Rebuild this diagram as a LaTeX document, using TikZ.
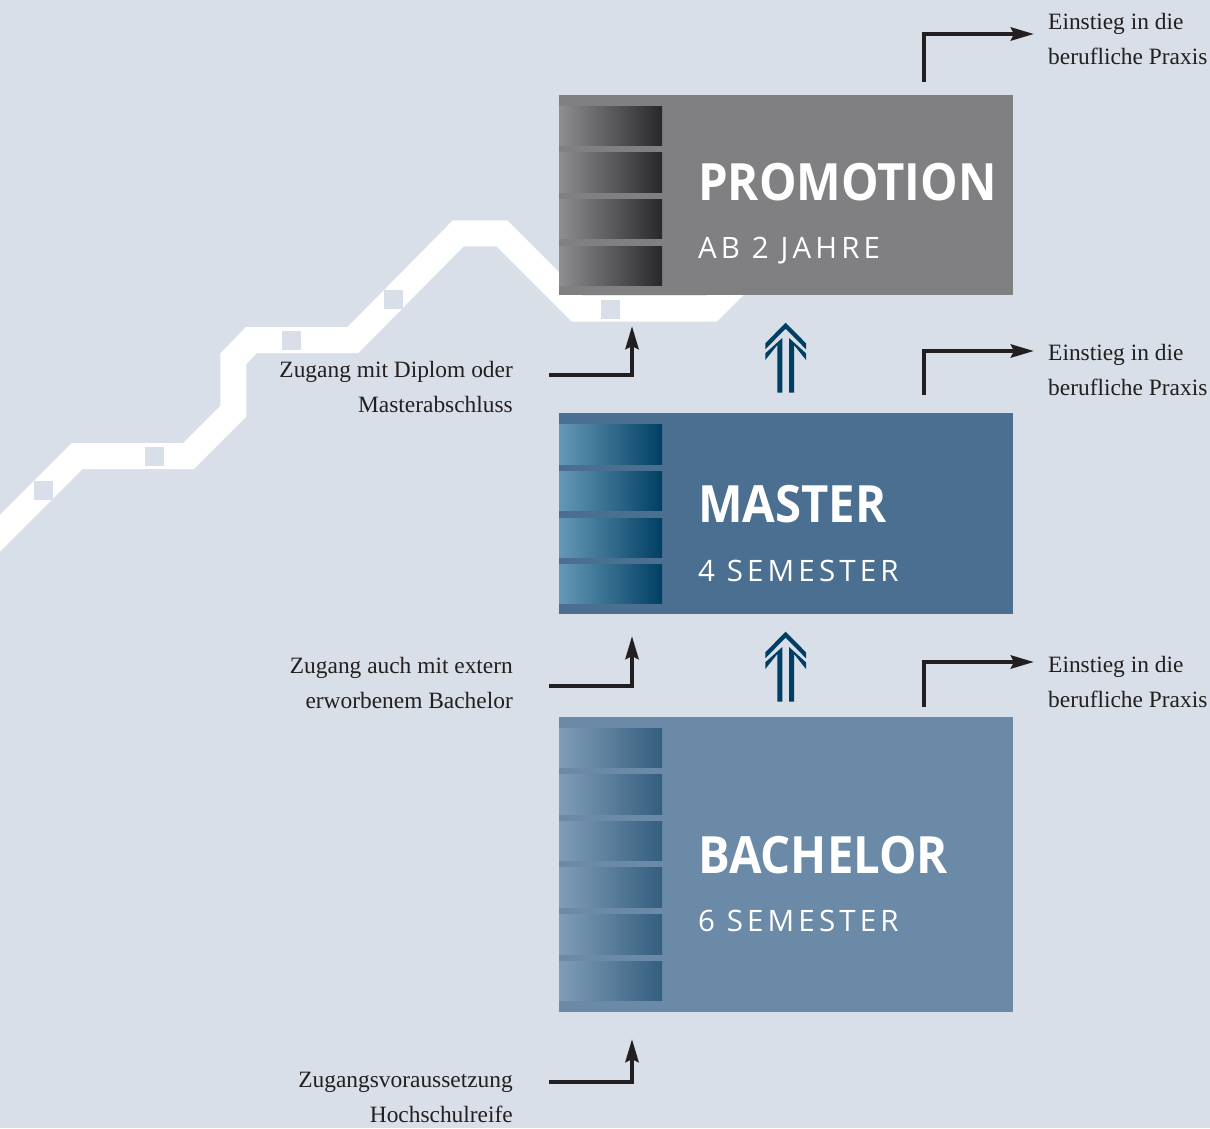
\documentclass[tikz,border=0pt]{standalone}
\usepackage{fontspec}
\setmainfont{Liberation Serif}
\newfontfamily\headfont[FakeStretch=0.92]{Open Sans}
\newfontfamily\subfont[LetterSpace=14]{Open Sans}
\usetikzlibrary{arrows.meta}

\definecolor{bg}{RGB}{216,223,232}
\definecolor{ink}{RGB}{35,31,32}
\definecolor{navy}{RGB}{0,63,99}
\definecolor{promo}{RGB}{128,128,130}
\definecolor{promoL}{RGB}{142,142,144}
\definecolor{promoR}{RGB}{40,39,41}
\definecolor{master}{RGB}{74,111,145}
\definecolor{masterL}{RGB}{102,152,182}
\definecolor{masterR}{RGB}{0,63,99}
\definecolor{bach}{RGB}{106,138,168}
\definecolor{bachL}{RGB}{128,157,183}
\definecolor{bachR}{RGB}{52,94,127}

\tikzset{
  level/.style={anchor=north west, inner sep=0pt, outer sep=0pt,
    minimum width=454pt},
  title/.style={anchor=base west, inner sep=0pt, text=white,
    font=\headfont\bfseries\fontsize{51.4}{51.4}\selectfont},
  subtitle/.style={anchor=base west, inner sep=0pt, text=white,
    font=\subfont\fontsize{29.5}{29.5}\selectfont},
  note/.style={inner sep=0pt, text=ink, font=\fontsize{23.4}{35}\selectfont},
  elbow/.style={draw=ink, line width=4.3pt, line join=miter,
    -{Stealth[length=23pt, width=13pt, inset=3pt]}},
  dblarrow/.pic={
    \fill[navy] (0,0) -- (20.35,20.6) -- (20.35,26.6) -- (0,6)
      -- (-20.35,26.6) -- (-20.35,20.6) -- cycle;
    \fill[navy] (-20.35,30.6) -- (-3.35,15.3) -- (-3.35,70) -- (-8.35,70)
      -- (-8.35,22.3) -- (-20.35,37.3) -- cycle;
    \fill[navy] (20.35,30.6) -- (3.35,15.3) -- (3.35,70) -- (8.35,70)
      -- (8.35,22.3) -- (20.35,37.3) -- cycle;
  }
}

\begin{document}
\begin{tikzpicture}[x=1pt, y=-1pt]
\path[use as bounding box, fill=bg] (0,0) rectangle (1210,1128);
\clip (0,0) rectangle (1210,1128);

% rising white track with its square markers
\draw[white, line width=26pt, line join=miter]
  (-40,573.2) -- (77.2,456) -- (188.4,456) -- (233.4,411) -- (233.4,358.7)
  -- (251.4,340) -- (352.9,340) -- (458.3,233.3) -- (501.8,233.3)
  -- (577.2,308.7) -- (711.6,308.7) -- (800,220);
\foreach \cx/\cy in {43.7/490, 154/456, 291/340.5, 393/299.5, 610.5/309.3}
  \fill[bg] (\cx-9.5,\cy-9.5) rectangle (\cx+9.5,\cy+9.5);

% the three levels
\node[level, fill=promo, minimum height=200pt] (promo) at (559,95) {};
\node[level, fill=master, minimum height=200.7pt] (master) at (559,413) {};
\node[level, fill=bach, minimum height=294.7pt] (bach) at (559,717) {};

\foreach \ya/\yb in {106/145.7, 152.7/192.7, 199/238.7, 246/285.7}
  \fill[left color=promoL, right color=promoR] (559,\ya) rectangle (662,\yb);
\foreach \ya/\yb in {424/464, 471/510.7, 518/557, 564/603.7}
  \fill[left color=masterL, right color=masterR] (559,\ya) rectangle (662,\yb);
\foreach \ya/\yb in {728/767.7, 774.7/814, 821/860.7, 867.7/907.7,
                     914.7/954.7, 961/1000.7}
  \fill[left color=bachL, right color=bachR] (559,\ya) rectangle (662,\yb);

\node[title] (tpromo) at (698,200) {PROMOTION};
\node[subtitle] (spromo) at (698,258.3) {AB 2 JAHRE};
\node[title] (tmaster) at (698,522) {MASTER};
\node[subtitle] (smaster) at (698,581) {4 SEMESTER};
\node[title] (tbach) at (698,873) {BACHELOR};
\node[subtitle] (sbach) at (698,931) {6 SEMESTER};

% progression arrows between levels
\pic (up1) at (785.65,322.7) {dblarrow};
\pic (up2) at (785.65,631.7) {dblarrow};

% exits into professional practice
\coordinate (e1a) at (924,82);   \coordinate (e1b) at (1034,34);
\coordinate (e2a) at (924,395);  \coordinate (e2b) at (1034,351);
\coordinate (e3a) at (924,707);  \coordinate (e3b) at (1034,662);
\draw[elbow] (e1a) |- (e1b);
\draw[elbow] (e2a) |- (e2b);
\draw[elbow] (e3a) |- (e3b);
\node[note, anchor=base west] (x1) at (1048,29)
  {\begin{tabular}[t]{@{}l@{}}Einstieg in die\\berufliche Praxis\end{tabular}};
\node[note, anchor=base west] (x2) at (1048,360)
  {\begin{tabular}[t]{@{}l@{}}Einstieg in die\\berufliche Praxis\end{tabular}};
\node[note, anchor=base west] (x3) at (1048,672)
  {\begin{tabular}[t]{@{}l@{}}Einstieg in die\\berufliche Praxis\end{tabular}};

% entry requirements
\coordinate (a1a) at (549,375);   \coordinate (a1b) at (632,326);
\coordinate (a2a) at (549,686);   \coordinate (a2b) at (632,636);
\coordinate (a3a) at (549,1082);  \coordinate (a3b) at (632,1039);
\draw[elbow] (a1a) -| (a1b);
\draw[elbow] (a2a) -| (a2b);
\draw[elbow] (a3a) -| (a3b);
\node[note, anchor=base east] (z1) at (513,377)
  {\begin{tabular}[t]{@{}r@{}}Zugang mit Diplom oder\\Masterabschluss\end{tabular}};
\node[note, anchor=base east] (z2) at (513,673)
  {\begin{tabular}[t]{@{}r@{}}Zugang auch mit extern\\erworbenem Bachelor\end{tabular}};
\node[note, anchor=base east] (z3) at (513,1087)
  {\begin{tabular}[t]{@{}r@{}}Zugangsvoraussetzung\\Hochschulreife\end{tabular}};
\end{tikzpicture}
\end{document}
